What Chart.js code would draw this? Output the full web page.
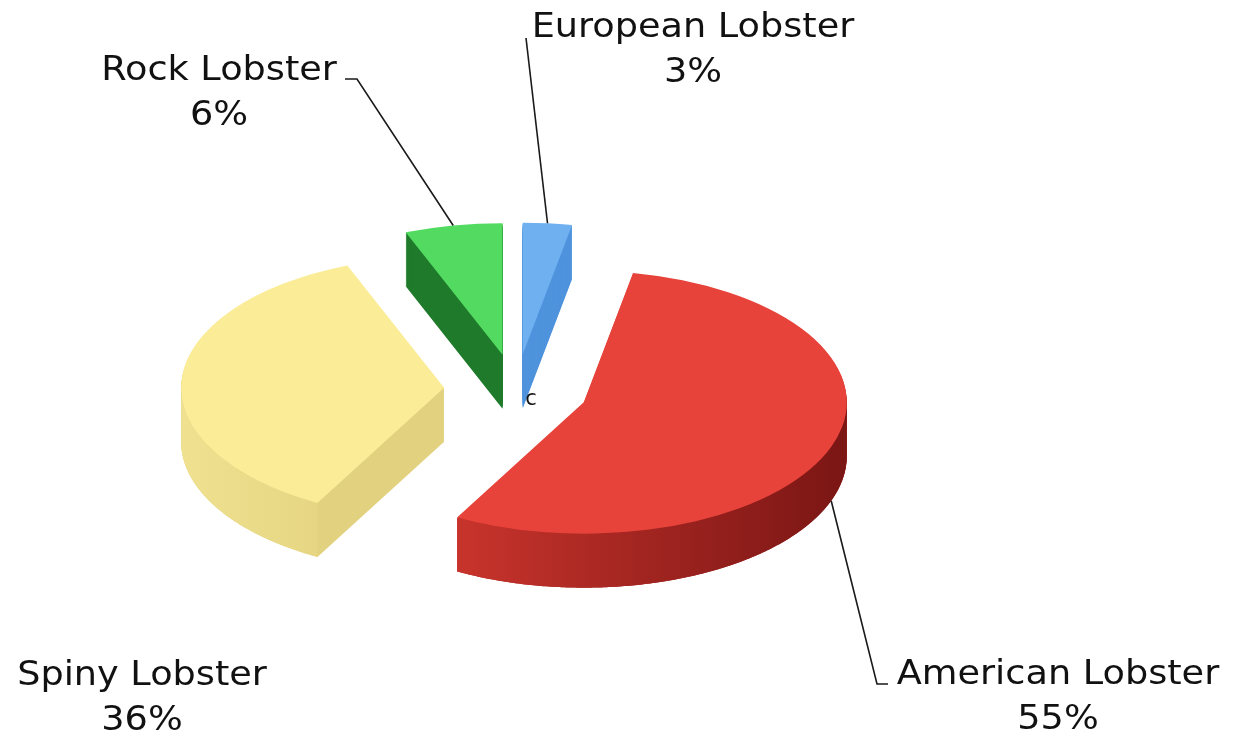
<!DOCTYPE html>
<html>
<head>
<meta charset="utf-8">
<title>Lobster species share</title>
<script src="https://cdn.jsdelivr.net/npm/chart.js@4.4.1/dist/chart.umd.min.js"></script>
<style>
  html, body { margin: 0; padding: 0; background: #ffffff; overflow: hidden; }
  canvas { display: block; }
</style>
</head>
<body>
<canvas id="chart" width="1235" height="738"></canvas>
<script>
// ---- data ----
const categories = ['European Lobster', 'American Lobster', 'Spiny Lobster', 'Rock Lobster'];
const shares = [3, 55, 36, 6];

// ---- styles ----
const topColors  = ['#6eb0f0', '#e8433b', '#fbec97', '#52db60'];
const wallColors = ['#4f93dc', '#a82624', '#e2d27f', '#1f7b2b'];
const rimStops   = [null, ['#c8342c', '#a02420', '#7a1614'], ['#efe190', '#e6d684'], null];

// ---- 3D look ----
const TILT = 0.5;      // vertical squash of the pie disc
const DEPTH = 54;      // thickness of the disc in px
const EXPLODE = 72;    // how far every slice is pulled out
const RADIUS = 263;

// ---- label layout ----
const LABEL_FONT = 33, LABEL_SX = 1.11, LINE_GAP = 45;
const labelLayout = [
  { x: 693,  y: 37,  anchorDepth: 0, path: [[526, 38]] },
  { x: 1058, y: 684, anchorDepth: 1, path: [[877, 684], [888, 684]] },
  { x: 142,  y: 685, anchorDepth: 0, path: null },
  { x: 219,  y: 80,  anchorDepth: 0, path: [[357, 79], [345, 79]] }
];

function project(arc, ang, r, dz) {
  const mid = (arc.startAngle + arc.endAngle) / 2;
  const ux = Math.cos(mid) * EXPLODE + r * Math.cos(ang);
  const uy = Math.sin(mid) * EXPLODE + r * Math.sin(ang);
  return [arc.x + ux, arc.y + uy * TILT + dz];
}

function wedgePath(ctx, arc, dz) {
  const s = arc.startAngle, e = arc.endAngle;
  const n = Math.max(8, Math.ceil((e - s) / 0.01));
  ctx.beginPath();
  const c = project(arc, 0, 0, dz);
  ctx.moveTo(c[0], c[1]);
  for (let i = 0; i <= n; i++) {
    const p = project(arc, s + (e - s) * i / n, arc.outerRadius, dz);
    ctx.lineTo(p[0], p[1]);
  }
  ctx.closePath();
}

function rimPath(ctx, arc, a0, a1) {
  const n = Math.max(8, Math.ceil((a1 - a0) / 0.01));
  ctx.beginPath();
  for (let i = 0; i <= n; i++) {
    const p = project(arc, a0 + (a1 - a0) * i / n, arc.outerRadius, 0);
    i === 0 ? ctx.moveTo(p[0], p[1]) : ctx.lineTo(p[0], p[1]);
  }
  for (let i = n; i >= 0; i--) {
    const p = project(arc, a0 + (a1 - a0) * i / n, arc.outerRadius, DEPTH);
    ctx.lineTo(p[0], p[1]);
  }
  ctx.closePath();
}

const pie3d = {
  id: 'pie3d',
  beforeDatasetsDraw(chart) {
    const ctx = chart.ctx;
    const arcs = chart.getDatasetMeta(0).data;

    // walls: the slice stacked downwards, then the curved front rim
    arcs.forEach((arc, i) => {
      ctx.save();
      ctx.fillStyle = wallColors[i];
      for (let dz = DEPTH; dz >= 1; dz--) {
        wedgePath(ctx, arc, dz);
        ctx.fill();
      }
      const a0 = Math.max(arc.startAngle, 0);
      const a1 = Math.min(arc.endAngle, Math.PI);
      if (rimStops[i] && a1 > a0) {
        const pL = project(arc, a1, arc.outerRadius, 0);
        const pR = project(arc, a0, arc.outerRadius, 0);
        const left = Math.min(pL[0], pR[0]);
        const right = Math.max(project(arc, Math.max(a0, 0), arc.outerRadius, 0)[0], pL[0], pR[0]);
        const g = ctx.createLinearGradient(left, 0, right + 1, 0);
        const stops = rimStops[i];
        stops.forEach((c, k) => g.addColorStop(k / (stops.length - 1), c));
        ctx.fillStyle = g;
        rimPath(ctx, arc, a0, a1);
        ctx.fill();
      }
      ctx.restore();
    });

    // top faces, drawn by the arc elements themselves
    arcs.forEach((arc) => {
      const mid = (arc.startAngle + arc.endAngle) / 2;
      const ex = Math.cos(mid) * EXPLODE;
      const ey = Math.sin(mid) * EXPLODE;
      ctx.save();
      ctx.translate(ex, arc.y * (1 - TILT) + ey * TILT);
      ctx.scale(1, TILT);
      arc.draw(ctx);
      ctx.restore();
    });
    return false;
  },
  afterDraw(chart) {
    const ctx = chart.ctx;
    const arcs = chart.getDatasetMeta(0).data;
    ctx.save();
    ctx.strokeStyle = '#1a1a1a';
    ctx.lineWidth = 1.6;
    arcs.forEach((arc, i) => {
      const L = labelLayout[i];
      if (L.path) {
        const mid = (arc.startAngle + arc.endAngle) / 2;
        const a = project(arc, mid, arc.outerRadius, L.anchorDepth * DEPTH);
        ctx.beginPath();
        ctx.moveTo(a[0], a[1]);
        L.path.forEach(p => ctx.lineTo(p[0], p[1]));
        ctx.stroke();
      }
    });
    ctx.fillStyle = '#111111';
    ctx.textAlign = 'center';
    ctx.textBaseline = 'alphabetic';
    ctx.font = LABEL_FONT + 'px "DejaVu Sans", Verdana, sans-serif';
    arcs.forEach((arc, i) => {
      const L = labelLayout[i];
      const lines = [categories[i], shares[i] + '%'];
      lines.forEach((t, k) => {
        ctx.save();
        ctx.translate(L.x, L.y + k * LINE_GAP);
        ctx.scale(LABEL_SX, 1);
        ctx.fillText(t, 0, 0);
        ctx.restore();
      });
    });
    // small caption at the hub
    ctx.font = '21px "DejaVu Sans", sans-serif';
    ctx.fillText('c', 531, 405);
    ctx.restore();
  }
};

new Chart(document.getElementById('chart'), {
  type: 'pie',
  data: {
    labels: categories,
    datasets: [{
      data: shares,
      backgroundColor: topColors,
      borderWidth: 0,
      clip: false
    }]
  },
  options: {
    responsive: false,
    animation: false,
    events: [],
    radius: RADIUS,
    layout: { padding: { left: 0, right: 203, top: 42, bottom: 0 } },
    plugins: {
      legend: { display: false },
      tooltip: { enabled: false }
    }
  },
  plugins: [pie3d]
});
</script>
</body>
</html>
